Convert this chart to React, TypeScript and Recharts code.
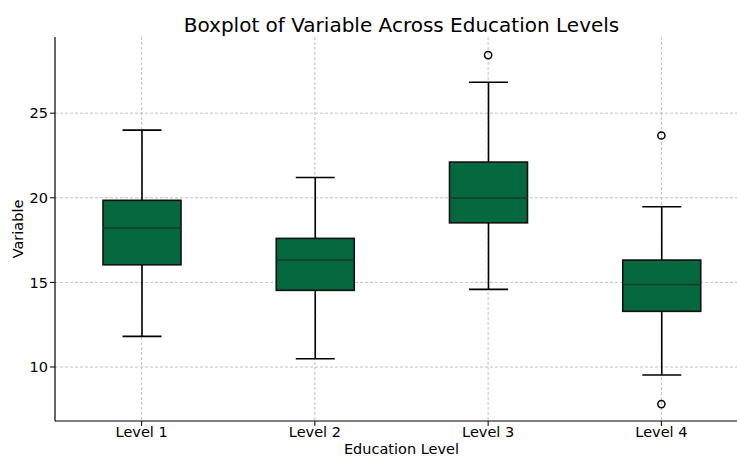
import React from "react";
import {
  ComposedChart,
  Bar,
  Scatter,
  XAxis,
  YAxis,
  CartesianGrid,
} from "recharts";

const levels = ["Level 1", "Level 2", "Level 3", "Level 4"];
const whiskerLow = [11.81, 10.49, 14.59, 9.53];
const q1 = [16.04, 14.53, 18.52, 13.29];
const median = [18.21, 16.32, 19.98, 14.88];
const q3 = [19.85, 17.6, 22.11, 16.32];
const whiskerHigh = [24.0, 21.2, 26.83, 19.47];
const outliersHigh = [null, null, 28.43, 23.68];
const outliersLow = [null, null, null, 7.81];

const yTicks = [10, 15, 20, 25];
const yDomain = [6.81, 29.5];

const data = levels.map((level, i) => ({
  level,
  lo: whiskerLow[i],
  q1: q1[i],
  med: median[i],
  q3: q3[i],
  hi: whiskerHigh[i],
  outHi: outliersHigh[i],
  outLo: outliersLow[i],
}));

const FONT = "'DejaVu Sans', sans-serif";
const BOX_FILL = "#05683f";

// ranged bar lo..hi; inner marks placed along the same scale
function BoxShape(props: any) {
  const { x, y, width, height, payload } = props;
  if (!payload) return <g />;
  const top = Math.min(y, y + height);
  const h = Math.abs(height);
  const ppu = h / (payload.hi - payload.lo);
  const toY = (v: number) => top + (payload.hi - v) * ppu;
  const cx = x + width / 2;
  const capHalf = width / 4;
  return (
    <g>
      <line x1={cx} x2={cx} y1={toY(payload.hi)} y2={toY(payload.q3)} stroke="#000" strokeWidth={1.6} />
      <line x1={cx} x2={cx} y1={toY(payload.q1)} y2={toY(payload.lo)} stroke="#000" strokeWidth={1.6} />
      <line x1={cx - capHalf} x2={cx + capHalf} y1={toY(payload.hi)} y2={toY(payload.hi)} stroke="#000" strokeWidth={1.6} />
      <line x1={cx - capHalf} x2={cx + capHalf} y1={toY(payload.lo)} y2={toY(payload.lo)} stroke="#000" strokeWidth={1.6} />
      <rect
        x={x}
        y={toY(payload.q3)}
        width={width}
        height={toY(payload.q1) - toY(payload.q3)}
        fill={BOX_FILL}
        stroke="#111"
        strokeWidth={1.6}
      />
      <line x1={x} x2={x + width} y1={toY(payload.med)} y2={toY(payload.med)} stroke="#143d28" strokeWidth={1.5} />
    </g>
  );
}

const outlierShape = (key: string) => (props: any) => {
  const { cx, cy, payload } = props;
  if (!payload || payload[key] == null) return <g />;
  return <circle cx={cx} cy={cy} r={3.6} fill="none" stroke="#000" strokeWidth={1.5} />;
};

const tickStyle = { fontFamily: FONT, fontSize: 14.5, fill: "#000" };

export default function App() {
  return (
    <div
      style={{
        position: "absolute",
        left: 0,
        top: 0,
        width: 737,
        height: 456,
        overflow: "hidden",
        background: "#fff",
      }}
    >
      <div
        style={{
          position: "absolute",
          left: 55,
          width: 693,
          top: 14.5,
          lineHeight: "20px",
          textAlign: "center",
          fontFamily: FONT,
          fontSize: 20,
          color: "#000",
        }}
      >
        Boxplot of Variable Across Education Levels
      </div>
      <ComposedChart
        width={748}
        height={456}
        data={data}
        margin={{ top: 37, right: 0, left: 0, bottom: 0 }}
      >
        <CartesianGrid
          stroke="#b0b0b0"
          strokeWidth={0.8}
          strokeDasharray="3 2"
          syncWithTicks
        />
        <XAxis
          dataKey="level"
          height={35}
          tickSize={5}
          tickMargin={1}
          tick={tickStyle}
          axisLine={{ stroke: "#000", strokeWidth: 1.2 }}
          tickLine={{ stroke: "#000" }}
          label={{
            value: "Education Level",
            position: "insideBottom",
            offset: 2,
            style: { fontFamily: FONT, fontSize: 14.5, fill: "#000" },
          }}
        />
        <YAxis
          type="number"
          domain={yDomain}
          ticks={yTicks}
          width={55}
          tickSize={5}
          tickMargin={2}
          tick={tickStyle}
          axisLine={{ stroke: "#000", strokeWidth: 1.2 }}
          tickLine={{ stroke: "#000" }}
          allowDataOverflow
          label={{
            value: "Variable",
            angle: -90,
            position: "insideLeft",
            offset: 18,
            style: { fontFamily: FONT, fontSize: 14.5, fill: "#000", textAnchor: "middle" },
          }}
        />
        <Bar
          dataKey={(d: any) => [d.lo, d.hi]}
          barSize={78}
          shape={BoxShape}
          isAnimationActive={false}
        />
        <Scatter dataKey="outHi" shape={outlierShape("outHi")} isAnimationActive={false} />
        <Scatter dataKey="outLo" shape={outlierShape("outLo")} isAnimationActive={false} />
      </ComposedChart>
    </div>
  );
}
